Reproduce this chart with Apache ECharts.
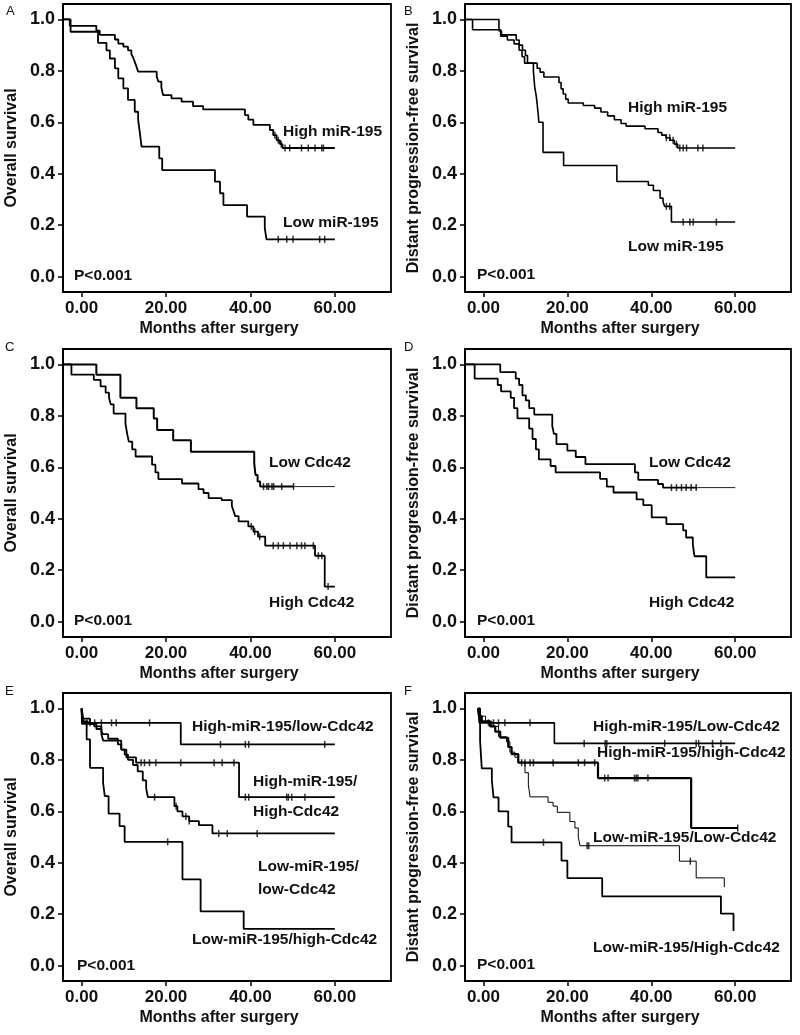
<!DOCTYPE html>
<html><head><meta charset="utf-8">
<script src="https://cdn.jsdelivr.net/npm/echarts@6/dist/echarts.min.js"></script>
<style>html,body{margin:0;padding:0;background:#fff}#c{width:800px;height:1035px}</style>
</head><body><div id="c"></div>
<script>
// ---------- tick labels ----------
const xTickValues = [0, 20, 40, 60];
const yTickValues = [0, 0.2, 0.4, 0.6, 0.8, 1.0];
const xTitle = 'Months after surgery';
const yTitles = ['Overall survival', 'Distant progression-free survival', 'Overall survival',
  'Distant progression-free survival', 'Overall survival', 'Distant progression-free survival'];
const panelLetters = ['A', 'B', 'C', 'D', 'E', 'F'];
const pText = 'P<0.001';

// ---------- Panel A ----------
const A_high_t = [-4.3, -2.8, 3.5, 4.3, 7.9, 8.7, 9.9, 11.0, 11.8, 12.2, 12.6, 13.0, 13.4, 17.8, 18.2, 18.9, 19.3, 21.3, 23.7, 26.4, 28.8, 38.7, 39.5, 40.7, 44.6, 45.4, 46.2, 47.0, 47.6, 60];
const A_high_s = [1.0, 0.975, 0.956, 0.94, 0.922, 0.906, 0.894, 0.88, 0.865, 0.852, 0.835, 0.816, 0.797, 0.777, 0.758, 0.736, 0.706, 0.693, 0.68, 0.663, 0.65, 0.628, 0.61, 0.59, 0.57, 0.55, 0.53, 0.515, 0.5, 0.5];
const A_high_c = [45.8, 46.6, 47.3, 48.2, 49.3, 52.1, 53.7, 55.3, 56.9, 57.3];
const A_low_t = [-4.3, -2.6, 3.9, 5.9, 6.7, 7.9, 8.7, 9.9, 11.0, 12.6, 13.4, 13.8, 14.2, 18.4, 19.1, 31.6, 32.8, 33.6, 39.2, 43.4, 43.8, 60];
const A_low_s = [1.0, 0.952, 0.909, 0.88, 0.848, 0.81, 0.771, 0.732, 0.687, 0.641, 0.609, 0.56, 0.505, 0.46, 0.414, 0.369, 0.324, 0.278, 0.233, 0.188, 0.145, 0.145];
const A_low_c = [46.6, 48.6, 50.1, 56.4, 57.6];

// ---------- Panel B ----------
const B_high_t = [-4.3, 3.7, 4.3, 7.8, 8.5, 9.3, 10.0, 10.5, 12.8, 13.5, 14.4, 18.0, 18.5, 19.0, 19.6, 20.2, 23.8, 26.5, 28.0, 29.6, 31.2, 32.8, 34.0, 38.5, 41.6, 42.5, 43.5, 44.5, 45.5, 46.3, 60];
const B_high_s = [1.0, 0.955, 0.94, 0.92, 0.9, 0.88, 0.86, 0.83, 0.81, 0.795, 0.776, 0.755, 0.73, 0.71, 0.69, 0.675, 0.665, 0.655, 0.64, 0.625, 0.61, 0.595, 0.585, 0.575, 0.56, 0.55, 0.54, 0.53, 0.515, 0.5, 0.5];
const B_high_c = [43.6, 44.4, 45.2, 46.0, 46.8, 47.6, 48.4, 51.1, 52.3];
const B_low_t = [-4.3, -2.6, 4.1, 5.7, 7.3, 8.5, 9.2, 9.8, 11.9, 12.2, 12.6, 13.0, 13.2, 14.2, 19.1, 31.8, 39.3, 40.5, 42.1, 42.8, 43.2, 44.8, 60];
const B_low_s = [1.0, 0.96, 0.935, 0.92, 0.905, 0.88, 0.855, 0.83, 0.80, 0.74, 0.70, 0.64, 0.60, 0.483, 0.432, 0.37, 0.355, 0.335, 0.305, 0.29, 0.273, 0.212, 0.212];
const B_low_c = [43.6, 44.4, 47.6, 49.2, 50.0, 55.5];

// ---------- Panel C ----------
const C_low_t = [-4.3, 3.5, 9.2, 13.0, 17.1, 17.9, 21.7, 25.9, 40.9, 41.2, 41.7, 42.3, 60];
const C_low_s = [1.0, 0.96, 0.87, 0.83, 0.79, 0.745, 0.705, 0.66, 0.615, 0.57, 0.545, 0.525, 0.525];
const C_low_c = [43.1, 43.9, 44.3, 45.1, 45.5, 47.4, 50.2];
const C_high_t = [-4.3, -2.4, 2.9, 4.5, 5.7, 6.5, 6.9, 7.6, 10.4, 10.8, 11.2, 12.0, 12.8, 16.7, 17.5, 18.2, 23.8, 27.7, 28.9, 30.1, 33.2, 35.6, 36.0, 36.4, 37.2, 39.5, 40.7, 41.8, 43.5, 55.3, 57.6, 60];
const C_high_s = [1.0, 0.96, 0.94, 0.915, 0.89, 0.87, 0.845, 0.809, 0.77, 0.73, 0.70, 0.67, 0.642, 0.61, 0.58, 0.554, 0.537, 0.515, 0.5, 0.48, 0.472, 0.45, 0.43, 0.41, 0.39, 0.37, 0.35, 0.33, 0.295, 0.256, 0.136, 0.136];
const C_high_c = [40.2, 41.0, 42.2, 45.4, 46.6, 47.8, 49.4, 51.0, 52.1, 52.9, 54.9, 56.1, 56.9, 58.4];

// ---------- Panel D ----------
const D_low_t = [-4.3, 4.0, 7.7, 8.5, 9.3, 10.1, 10.9, 12.1, 16.4, 16.8, 17.4, 20.0, 22.0, 24.3, 36.1, 36.9, 41.6, 42.8, 60];
const D_low_s = [1.0, 0.97, 0.945, 0.92, 0.88, 0.86, 0.83, 0.805, 0.76, 0.73, 0.69, 0.665, 0.64, 0.612, 0.58, 0.551, 0.535, 0.521, 0.521];
const D_low_c = [44.8, 46.0, 47.2, 48.3, 49.5, 50.7];
const D_high_t = [-4.3, -2.1, 3.4, 4.2, 6.5, 7.3, 8.1, 10.9, 11.7, 12.5, 13.2, 16.0, 17.2, 27.8, 29.4, 31.0, 36.5, 38.1, 40.1, 43.6, 47.6, 48.3, 49.9, 50.3, 53.1, 60];
const D_high_s = [1.0, 0.945, 0.92, 0.895, 0.87, 0.83, 0.79, 0.75, 0.71, 0.67, 0.631, 0.605, 0.58, 0.555, 0.525, 0.502, 0.475, 0.453, 0.405, 0.379, 0.355, 0.327, 0.30, 0.254, 0.172, 0.172];
const D_high_c = [];

// ---------- Panel E ----------
const E_hl_t = [0, 0.2, 23.5, 60];
const E_hl_s = [1.0, 0.944, 0.86, 0.86];
const E_hl_c = [1.2, 2.0, 3.1, 4.7, 7.1, 8.2, 16.1, 32.9, 38.8, 39.6, 57.6];
const E_hh_t = [0, 0.1, 0.5, 1.5, 3.0, 4.7, 5.1, 6.3, 8.6, 9.4, 10.6, 12.9, 37.3, 60];
const E_hh_s = [1.0, 0.97, 0.95, 0.94, 0.93, 0.91, 0.9, 0.882, 0.86, 0.84, 0.81, 0.789, 0.655, 0.655];
const E_hh_c = [14.1, 14.9, 16.1, 17.6, 23.5, 31.4, 33.3, 36.1, 38.8, 39.6, 48.6, 49.0, 49.8, 52.9];
const E_ll_t = [0, 0.4, 2.0, 3.5, 4.7, 5.1, 9.4, 10.2, 11.0, 12.2, 13.3, 14.5, 15.3, 15.7, 22.0, 22.7, 23.9, 25.5, 27.8, 31.0, 60];
const E_ll_s = [1.0, 0.96, 0.94, 0.92, 0.9, 0.875, 0.84, 0.82, 0.80, 0.78, 0.755, 0.72, 0.69, 0.655, 0.62, 0.60, 0.58, 0.562, 0.546, 0.514, 0.514];
const E_ll_c = [17.3, 22.4, 24.7, 25.5, 32.5, 34.5, 41.6];
const E_lh_t = [0, 0.1, 1.2, 2.0, 5.1, 5.5, 6.4, 9.0, 10.2, 23.9, 28.2, 38.4, 60];
const E_lh_s = [1.0, 0.94, 0.88, 0.769, 0.71, 0.659, 0.591, 0.542, 0.481, 0.335, 0.211, 0.143, 0.143];
const E_lh_c = [20.4];

// ---------- Panel F ----------
const F_hl_t = [-1.3, -1.0, 16.9, 60];
const F_hl_s = [1.0, 0.944, 0.864, 0.864];
const F_hl_c = [1.2, 2.4, 3.6, 5.1, 11.1, 24.0, 29.0, 29.4, 43.2, 50.7, 51.3, 54.6, 56.6];
const F_hh_t = [-1.3, -1.0, -0.4, 1.6, 2.8, 4.0, 5.9, 6.7, 8.3, 27.3, 49.5, 60.6];
const F_hh_s = [1.0, 0.97, 0.95, 0.93, 0.91, 0.886, 0.85, 0.822, 0.789, 0.729, 0.535, 0.535];
const F_hh_c = [9.1, 9.9, 11.1, 11.9, 16.6, 22.6, 24.1, 26.5, 28.9, 29.7, 36.0, 36.4, 36.8, 39.2, 60.6];
const F_ll_t = [-1.3, -0.8, 0.5, 2.0, 3.6, 5.5, 6.3, 7.5, 8.3, 9.9, 10.7, 11.1, 15.4, 16.6, 17.6, 20.6, 21.8, 22.6, 23.0, 46.7, 50.7, 57.4];
const F_ll_s = [1.0, 0.97, 0.95, 0.93, 0.89, 0.87, 0.83, 0.81, 0.79, 0.75, 0.703, 0.656, 0.635, 0.62, 0.596, 0.56, 0.535, 0.5, 0.466, 0.406, 0.341, 0.305];
const F_ll_c = [24.7, 25.1, 49.3];
const F_lh_t = [-1.3, -0.8, -0.4, 2.0, 2.4, 3.6, 5.9, 6.7, 18.6, 20.0, 28.3, 56.6, 59.6];
const F_lh_s = [1.0, 0.873, 0.767, 0.72, 0.654, 0.6, 0.54, 0.479, 0.408, 0.34, 0.269, 0.202, 0.134];
const F_lh_c = [14.3];

// ---------- curve labels ----------
const labelsA = ['High miR-195', 'Low miR-195'];
const labelsB = ['High miR-195', 'Low miR-195'];
const labelsC = ['Low Cdc42', 'High Cdc42'];
const labelsD = ['Low Cdc42', 'High Cdc42'];
const labelsE = ['High-miR-195/low-Cdc42', 'High-miR-195/', 'High-Cdc42', 'Low-miR-195/', 'low-Cdc42', 'Low-miR-195/high-Cdc42'];
const labelsF = ['High-miR-195/Low-Cdc42', 'High-miR-195/high-Cdc42', 'Low-miR-195/Low-Cdc42', 'Low-miR-195/High-Cdc42'];

// ================= layout / styling =================
const FONT = '"Liberation Sans", Arial, Helvetica, sans-serif';
const INK = '#111';
const colL = 63, colR = 465, rowTops = [4, 349, 693];
const gridDefs = [];
for (let r = 0; r < 3; r++) {
  gridDefs.push({ left: colL, top: rowTops[r], width: 328, height: 288 });
  gridDefs.push({ left: colR, top: rowTops[r], width: 326, height: 288 });
}

// [times, survival, censor times, line width, time after which line turns thin (or null)]
const panelCurves = [
  [[A_high_t, A_high_s, A_high_c, 1.8, null], [A_low_t, A_low_s, A_low_c, 1.8, null]],
  [[B_high_t, B_high_s, B_high_c, 1.6, null], [B_low_t, B_low_s, B_low_c, 1.6, null]],
  [[C_low_t, C_low_s, C_low_c, 2.0, 50.4], [C_high_t, C_high_s, C_high_c, 1.8, null]],
  [[D_low_t, D_low_s, D_low_c, 1.8, 51.0], [D_high_t, D_high_s, D_high_c, 1.8, null]],
  [[E_hl_t, E_hl_s, E_hl_c, 1.8, null], [E_hh_t, E_hh_s, E_hh_c, 1.8, null], [E_ll_t, E_ll_s, E_ll_c, 1.8, null], [E_lh_t, E_lh_s, E_lh_c, 1.8, null]],
  [[F_hl_t, F_hl_s, F_hl_c, 1.6, null], [F_hh_t, F_hh_s, F_hh_c, 2.2, null], [F_ll_t, F_ll_s, F_ll_c, 1.0, null], [F_lh_t, F_lh_s, F_lh_c, 1.8, null]]
];

function survAt(c, t, s) {
  let v = s[0];
  for (let i = 0; i < t.length; i++) { if (t[i] <= c) v = s[i]; }
  return v;
}

const grid = gridDefs.map(g => Object.assign({ show: true, borderColor: '#000', borderWidth: 1.8, backgroundColor: 'transparent' }, g));
const xAxis = gridDefs.map((g, i) => ({
  type: 'value', gridIndex: i, min: -4.4, max: 73.3,
  name: xTitle, nameLocation: 'middle', nameGap: 29,
  nameTextStyle: { fontFamily: FONT, fontWeight: 'bold', fontSize: 16, color: INK, padding: [0, 16, 0, 0] },
  axisLine: { show: true, onZero: false, lineStyle: { color: '#000', width: 1.8 } },
  axisTick: { show: true, length: 5, customValues: xTickValues, lineStyle: { color: '#000', width: 1.5 } },
  axisLabel: { customValues: xTickValues, margin: 8, fontFamily: FONT, fontWeight: 'bold', fontSize: 17, color: INK,
    formatter: v => v.toFixed(2) },
  splitLine: { show: false }
}));
const yAxis = gridDefs.map((g, i) => ({
  type: 'value', gridIndex: i, min: -0.06, max: 1.06,
  name: yTitles[i], nameLocation: 'middle', nameGap: 43,
  nameTextStyle: { fontFamily: FONT, fontWeight: 'bold', fontSize: 16, color: INK },
  axisLine: { show: true, onZero: false, lineStyle: { color: '#000', width: 1.8 } },
  axisTick: { show: true, length: 5, customValues: yTickValues, lineStyle: { color: '#000', width: 1.5 } },
  axisLabel: { customValues: yTickValues, margin: 8, fontFamily: FONT, fontWeight: 'bold', fontSize: 18, color: INK,
    formatter: v => v.toFixed(1) },
  splitLine: { show: false }
}));

const series = [];
panelCurves.forEach((curves, pi) => {
  curves.forEach(([t, s, c, w, thinFrom]) => {
    const pts = t.map((x, k) => [x, s[k]]);
    const base = { type: 'line', xAxisIndex: pi, yAxisIndex: pi, step: 'end', symbol: 'none', silent: true };
    if (thinFrom == null) {
      series.push(Object.assign({ lineStyle: { color: '#000', width: w }, data: pts }, base));
    } else {
      const sv = survAt(thinFrom, t, s);
      const head = pts.filter(p => p[0] < thinFrom).concat([[thinFrom, sv]]);
      const tail = [[thinFrom, sv]].concat(pts.filter(p => p[0] > thinFrom));
      series.push(Object.assign({ lineStyle: { color: '#000', width: w }, data: head }, base));
      series.push(Object.assign({ lineStyle: { color: '#222', width: 1.0 }, data: tail }, base));
    }
    if (c.length) series.push({
      type: 'scatter', xAxisIndex: pi, yAxisIndex: pi, symbol: 'rect', symbolSize: [1.5, 7],
      itemStyle: { color: '#000' }, data: c.map(x => [x, survAt(x, t, s)]), silent: true
    });
  });
});

// text annotations (label text, left x, vertical centre y)
function txt(str, x, y, size, weight) {
  return { type: 'text', x: x, y: y, silent: true,
    style: { text: str, fill: INK, font: (weight || 'bold') + ' ' + (size || 15.5) + 'px ' + FONT, textVerticalAlign: 'middle', textAlign: 'left' } };
}
const graphic = [
  txt(panelLetters[0], 6, 11, 13, 'normal'), txt(panelLetters[1], 404, 11, 13, 'normal'),
  txt(panelLetters[2], 5, 347, 13, 'normal'), txt(panelLetters[3], 404, 347, 13, 'normal'),
  txt(panelLetters[4], 5, 691, 13, 'normal'), txt(panelLetters[5], 404, 691, 13, 'normal'),
  txt(labelsA[0], 283, 132), txt(labelsA[1], 283, 223), txt(pText, 74, 276),
  txt(labelsB[0], 628, 108), txt(labelsB[1], 628, 247), txt(pText, 477, 275),
  txt(labelsC[0], 269, 463), txt(labelsC[1], 269, 603), txt(pText, 74, 621),
  txt(labelsD[0], 649, 463), txt(labelsD[1], 649, 603), txt(pText, 477, 621),
  txt(labelsE[0], 192, 727), txt(labelsE[1], 253, 782), txt(labelsE[2], 253, 812),
  txt(labelsE[3], 258, 867), txt(labelsE[4], 258, 890), txt(labelsE[5], 192, 940), txt(pText, 77, 966),
  txt(labelsF[0], 593, 727), txt(labelsF[1], 597, 753), txt(labelsF[2], 593, 838), txt(labelsF[3], 593, 948), txt(pText, 477, 965)
];

const chart = echarts.init(document.getElementById('c'), null, { renderer: 'canvas' });
chart.setOption({ animation: false, backgroundColor: '#fff', grid, xAxis, yAxis, series, graphic });
</script>
</body></html>
